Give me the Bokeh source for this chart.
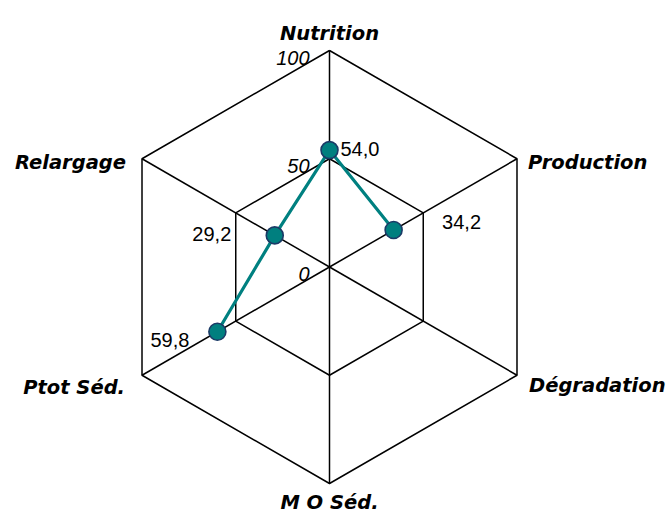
import math
from bokeh.plotting import figure
from bokeh.models import Range1d
from bokeh.core.properties import value
from bokeh.embed import file_html
from bokeh.resources import INLINE

# ---- data ----
categories = ["Nutrition", "Production", "Dégradation", "M O Séd.", "Ptot Séd.", "Relargage"]
values = [54.0, 34.2, None, None, 59.8, 29.2]
value_labels = ["54,0", "34,2", "", "", "59,8", "29,2"]
ring_values = [0, 50, 100]
ring_labels = ["0", "50", "100"]
axis_max = 100.0

# ---- layout (pixels) ----
W, H = 667, 516
CX, CY = 329.0, 266.5   # chart centre in figure pixels (from left / from top)
R = 216.5               # radius of the 100 ring in pixels
PX = 1.0 / R            # one pixel in data units

p = figure(width=W, height=H, output_backend="svg", toolbar_location=None,
           x_range=Range1d(-CX / R, (W - CX) / R),
           y_range=Range1d(-(H - CY) / R, CY / R),
           x_axis_location=None, y_axis_location=None,
           min_border=0, min_border_left=0, min_border_right=0,
           min_border_top=0, min_border_bottom=0,
           outline_line_color=None, background_fill_color="white",
           border_fill_color="white")
p.grid.grid_line_color = None

n = len(categories)
angles = [math.radians(90 - 360.0 / n * i) for i in range(n)]
ux = [math.cos(a) for a in angles]
uy = [math.sin(a) for a in angles]

# grid rings (hexagons)
for rv in ring_values:
    if rv <= 0:
        continue
    f = rv / axis_max
    p.line([f * x for x in ux] + [f * ux[0]], [f * y for y in uy] + [f * uy[0]],
           line_color="black", line_width=1.5)

# spokes
p.segment(x0=[0] * n, y0=[0] * n, x1=ux, y1=uy, line_color="black", line_width=1.5)

# series line (gaps where values are missing), closed loop
sx, sy = [], []
for i in list(range(n)) + [0]:
    v = values[i]
    if v is None:
        sx.append(float("nan")); sy.append(float("nan"))
    else:
        sx.append(v / axis_max * ux[i]); sy.append(v / axis_max * uy[i])
p.line(sx, sy, line_color="#008080", line_width=3.2)

mx = [values[i] / axis_max * ux[i] for i in range(n) if values[i] is not None]
my = [values[i] / axis_max * uy[i] for i in range(n) if values[i] is not None]
p.scatter(mx, my, size=17, marker="circle", fill_color="#007F7F",
          line_color="#1B3A66", line_width=1.6)

# value labels (pixel offsets from the point: dx right, dy down to baseline)
lab_off = {0: (11, -1.5, "left"), 1: (48.5, -8, "left"),
           4: (-28, 8, "right"), 5: (-43.5, -1.5, "right")}
for i in range(n):
    if values[i] is None:
        continue
    dx, dy, al = lab_off[i]
    px_ = values[i] / axis_max * ux[i] + dx * PX
    py_ = values[i] / axis_max * uy[i] - dy * PX
    p.text([px_], [py_], text=[value_labels[i]], text_font=value("Liberation Sans"),
           text_font_size="20px", text_color="black", text_align=al,
           text_baseline="alphabetic")

# ring tick labels along top spoke
for rv, lab in zip(ring_values, ring_labels):
    f = rv / axis_max
    p.text([-20 * PX], [f * uy[0] - 7 * PX], text=[lab], text_font=value("Liberation Sans"),
           text_font_style="italic", text_font_size="20px", text_color="black",
           text_align="right", text_baseline="alphabetic")

# category labels (dx right, dy down to baseline, alignment)
cat_off = [(0, -17, "center"), (11, 4, "left"), (12, 10, "left"),
           (0, 19, "center"), (-17, 12, "right"), (-16, 4, "right")]
for i in range(n):
    dx, dy, al = cat_off[i]
    p.text([ux[i] + dx * PX], [uy[i] - dy * PX], text=[categories[i]],
           text_font=value("DejaVu Sans"), text_font_style="bold italic",
           text_font_size="19.5px", text_color="black", text_align=al,
           text_baseline="alphabetic")

open("out.html", "w").write(file_html(p, INLINE))
